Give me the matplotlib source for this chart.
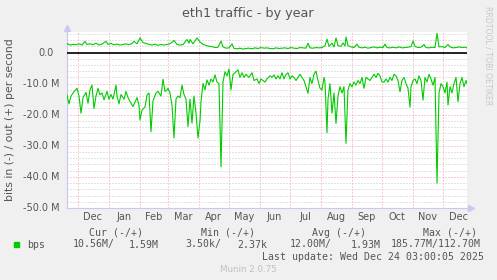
import numpy as np
import matplotlib
matplotlib.use("Agg")
import matplotlib.pyplot as plt
from matplotlib.patches import Rectangle

# x axis: days since 2024-11-20 12:00 (400 days shown)
start = np.datetime64("2024-11-20T12:00")

# bits in (drawn negative), in M
in_days = [0, 2, 4, 7, 10, 12, 14, 16, 19, 21, 23, 25, 27, 29, 31, 33, 35, 37, 40, 42,
           44, 46, 49, 50, 52, 54, 57, 59, 61, 64, 66, 68, 70, 72, 73, 75, 78, 80, 82, 84,
           86, 89, 91, 94, 96, 98, 100, 101, 103, 105, 107, 109, 111, 113, 115, 117, 119, 121, 123, 125,
           127, 129, 131, 133, 134, 136, 138, 140, 142, 144, 146, 148, 150, 152, 154, 156, 158, 160, 162, 164,
           166, 168, 171, 173, 175, 177, 179, 182, 185, 187, 190, 192, 194, 196, 198, 200, 203, 205, 207, 209,
           211, 213, 215, 217, 219, 221, 223, 225, 227, 229, 231, 233, 235, 237, 239, 241, 243, 245, 247, 249,
           251, 253, 255, 257, 258, 260, 261, 263, 265, 267, 269, 271, 273, 275, 277, 279, 281, 283, 285, 287,
           289, 291, 293, 295, 297, 299, 301, 303, 305, 307, 309, 311, 313, 315, 317, 319, 321, 323, 325, 327,
           329, 331, 333, 335, 337, 339, 341, 343, 344, 346, 348, 350, 352, 354, 356, 358, 360, 362, 364, 366,
           368, 370, 372, 374, 376, 378, 380, 381, 383, 385, 387, 389, 391, 393, 395, 397, 399, 400]
in_vals = [13.7, 16.5, 14, 12.6, 11.5, 14, 19.5, 14.5, 12.8, 16.3, 12, 10.5, 18, 14, 11.5, 13.6, 13, 15.2, 12.5, 15,
           13.5, 15, 10.5, 14, 16.5, 13.5, 15, 12.5, 14.5, 16.3, 17.4, 16, 14.5, 17, 21.7, 18.5, 17.5, 13.7, 13, 25.5,
           15.5, 13, 12.5, 14, 8.6, 12.5, 12, 11.5, 13, 17, 27.5, 15, 14, 14.5, 10.5, 13.5, 15, 23.8, 15, 22.7,
           14, 19.5, 27.5, 22, 15.8, 9.9, 12, 8.8, 10.5, 8.5, 9.5, 7.2, 9.5, 10, 36.8, 9.5, 6.2, 7.5, 5.3, 12,
           7, 6.5, 5.6, 8, 6.5, 8, 7, 8, 6.5, 9, 8.5, 10, 8.5, 9, 9.5, 8.5, 7.5, 8, 7.2, 8.5,
           7.5, 8.5, 6.5, 8.5, 7, 6.5, 8.5, 7.5, 8, 9, 8, 7, 8, 9, 11, 13.1, 8, 10, 7, 6,
           9, 11.5, 12, 8, 9.5, 25.8, 15, 10, 19.5, 13, 22.8, 14, 11, 13, 11, 29.2, 12, 10, 11, 9.5,
           10.5, 9, 10, 8, 11.5, 8, 8.5, 9, 8, 7, 8, 6.7, 7.5, 9.5, 9.5, 8.5, 9.5, 8, 9, 7,
           7.5, 9, 12.6, 9, 8, 10, 11.5, 17.6, 11, 9, 8.5, 10, 7.5, 9, 15.3, 8, 9.5, 7, 8.5, 10.5,
           8, 42, 13.1, 10, 11, 13, 9.5, 16.9, 11, 13, 10, 8, 15.8, 10, 8, 11, 9, 10]

# bits out (drawn positive), in M
out_days = [0, 3, 6, 9, 12, 15, 18, 20, 23, 26, 29, 32, 35, 39, 41, 44, 47, 50, 53, 56,
            59, 62, 65, 67, 70, 73, 76, 79, 82, 85, 88, 91, 94, 97, 100, 103, 107, 110, 113, 116,
            120, 122, 123, 126, 130, 133, 136, 139, 142, 145, 148, 151, 154, 156, 159, 162, 165, 167, 170, 173,
            176, 179, 182, 185, 188, 191, 194, 197, 200, 203, 206, 209, 212, 215, 218, 221, 224, 227, 230, 233,
            236, 239, 241, 243, 246, 249, 252, 255, 258, 260, 262, 265, 267, 269, 271, 274, 276, 278, 279, 281,
            284, 287, 290, 292, 295, 298, 301, 304, 307, 310, 313, 316, 318, 320, 323, 326, 329, 332, 335, 338,
            341, 344, 346, 348, 351, 354, 357, 359, 362, 365, 368, 370, 372, 375, 378, 381, 383, 386, 389, 392,
            395, 398, 400]
out_vals = [2.9, 2.4, 2.6, 2.5, 2.8, 2.4, 3.6, 2.6, 2.8, 2.5, 3.0, 2.4, 2.7, 3.6, 2.6, 2.9, 2.5, 2.7, 2.4, 2.6,
            2.8, 2.5, 2.9, 3.6, 2.8, 4.7, 3.2, 2.9, 2.6, 2.4, 2.7, 2.3, 2.6, 2.4, 2.6, 2.8, 3.9, 2.6, 2.4, 2.5,
            4.2, 3.0, 4.2, 2.8, 4.7, 3.4, 2.6, 2.3, 2.0, 1.9, 1.6, 1.7, 3.7, 1.8, 1.4, 1.5, 2.8, 1.3, 1.2, 1.4,
            1.1, 1.3, 1.4, 1.2, 1.5, 1.3, 1.6, 1.4, 1.5, 1.3, 1.2, 1.5, 1.3, 1.4, 1.5, 1.3, 1.6, 1.4, 1.3, 1.6,
            1.5, 1.4, 3.0, 1.5, 1.4, 1.6, 1.5, 1.6, 2.2, 4.3, 2.0, 3.0, 1.8, 4.7, 2.2, 2.0, 3.1, 2.1, 5.0, 2.2,
            1.8, 1.6, 2.7, 1.7, 1.5, 1.7, 1.4, 1.6, 1.8, 1.5, 1.7, 1.6, 2.7, 1.6, 1.5, 1.7, 1.5, 1.8, 1.5, 1.6,
            1.7, 1.9, 3.7, 2.0, 1.6, 1.7, 2.6, 1.6, 1.5, 1.7, 1.6, 6.2, 1.8, 1.9, 1.6, 2.6, 1.8, 1.5, 1.6, 1.8,
            1.6, 1.7, 1.5]

months = ["Dec", "Jan", "Feb", "Mar", "Apr", "May", "Jun", "Jul", "Aug", "Sep", "Oct", "Nov", "Dec"]
month_starts = ["2024-12-01", "2025-01-01", "2025-02-01", "2025-03-01", "2025-04-01", "2025-05-01",
                "2025-06-01", "2025-07-01", "2025-08-01", "2025-09-01", "2025-10-01", "2025-11-01",
                "2025-12-01", "2026-01-01"]
yticks = [0, -10, -20, -30, -40, -50]
ylabels = ["0.0", "-10.0 M", "-20.0 M", "-30.0 M", "-40.0 M", "-50.0 M"]

def to_dates(days):
    return [(start + np.timedelta64(int(d * 24), "h")).astype("datetime64[s]").astype(object) for d in days]

W, H = 497, 280
fig = plt.figure(figsize=(W / 100, H / 100), dpi=100, facecolor="#F0F0F0")
ax = fig.add_axes([67 / W, 72 / H, 400 / W, 176 / H], facecolor="white")

txt = "#555555"
green = "#00CC00"
dots = (0, (1, 2))

x0 = start.astype("datetime64[s]").astype(object)
x1 = (start + np.timedelta64(400, "D")).astype("datetime64[s]").astype(object)
ax.set_xlim(x0, x1)
ax.set_ylim(-50e6, 6.6e6)

# horizontal grid: grey every 2M, red at every 10M
for v in np.arange(-50, 7, 2):
    if v % 10 == 0:
        ax.axhline(v * 1e6, color="#F2A0A0", lw=0.72, ls=dots, zorder=1)
    else:
        ax.axhline(v * 1e6, color="#C8C8C8", lw=0.72, ls=dots, zorder=1)

# month start lines
ms = [np.datetime64(m).astype("datetime64[s]").astype(object) for m in month_starts]
for m in ms[:-1]:
    ax.axvline(m, color="#F2A0A0", lw=0.72, ls=dots, zorder=1)

ax.axhline(0, color="black", lw=1.2, zorder=3)

ax.plot(to_dates(in_days), [-v * 1e6 for v in in_vals], color=green, lw=0.8, zorder=4)
ax.plot(to_dates(out_days), [v * 1e6 for v in out_vals], color=green, lw=0.8, zorder=4)

# month labels centred between month starts
mids = []
for a, b in zip(ms[:-1], ms[1:]):
    mids.append(a + (b - a) / 2)
ax.set_xticks(mids)
ax.set_xticklabels(months, color=txt, fontsize=7)
ax.tick_params(axis="x", length=0, pad=3)
ax.set_yticks([])

for v, lab in zip(yticks, ylabels):
    off = -0.033 if v == 0 else -0.018
    ax.text(off, v * 1e6, lab, transform=ax.get_yaxis_transform(), ha="right", va="center",
            fontsize=7, color=txt)

for s in ["top", "right"]:
    ax.spines[s].set_visible(False)
for s in ["left", "bottom"]:
    ax.spines[s].set_color("#C8C8F0")
    ax.spines[s].set_linewidth(0.8)
ax.plot([0], [1.02], marker="^", ms=4, color="#C8C8F0", transform=ax.transAxes, clip_on=False)
ax.plot([1.01], [0], marker=">", ms=4, color="#C8C8F0", transform=ax.transAxes, clip_on=False)

fig.text(248 / W, 1 - 14 / H, "eth1 traffic - by year", ha="center", va="center", fontsize=9.2, color=txt)
fig.text(10 / W, 1 - 120 / H, "bits in (-) / out (+) per second", rotation=90, ha="center", va="center",
         fontsize=7.8, color=txt)
fig.text(488 / W, 1 - 56 / H, "RRDTOOL / TOBI OETIKER", rotation=270, ha="center", va="center",
         fontsize=5.6, color="#C8C8C8")

mono = dict(family="DejaVu Sans Mono", fontsize=7.1, color=txt, va="center")
r1, r2, r3 = 1 - 232.5 / H, 1 - 244.5 / H, 1 - 256.5 / H
fig.text(89.3 / W, r1, "Cur (-/+)", **mono)
fig.text(200.7 / W, r1, "Min (-/+)", **mono)
fig.text(311.7 / W, r1, "Avg (-/+)", **mono)
fig.text(422.7 / W, r1, "Max (-/+)", **mono)
fig.text(26.7 / W, r2, "bps", **mono)
fig.text(72.7 / W, r2, "10.56M/", **mono)
fig.text(128.3 / W, r2, "1.59M", **mono)
fig.text(185.7 / W, r2, "3.50k/", **mono)
fig.text(237 / W, r2, "2.37k", **mono)
fig.text(289.3 / W, r2, "12.00M/", **mono)
fig.text(350.7 / W, r2, "1.93M", **mono)
fig.text(391 / W, r2, "185.77M/112.70M", **mono)
fig.text(261.7 / W, r3, "Last update: Wed Dec 24 03:00:05 2025", **mono)
fig.add_artist(Rectangle((14 / W, 1 - 247 / H), 5 / W, 5 / H, transform=fig.transFigure, color=green))
fig.text(248 / W, 1 - 269.5 / H, "Munin 2.0.75", ha="center", va="center", fontsize=6.3, color="#C0C0C0")

fig.savefig("out.png", dpi=100, facecolor=fig.get_facecolor())
